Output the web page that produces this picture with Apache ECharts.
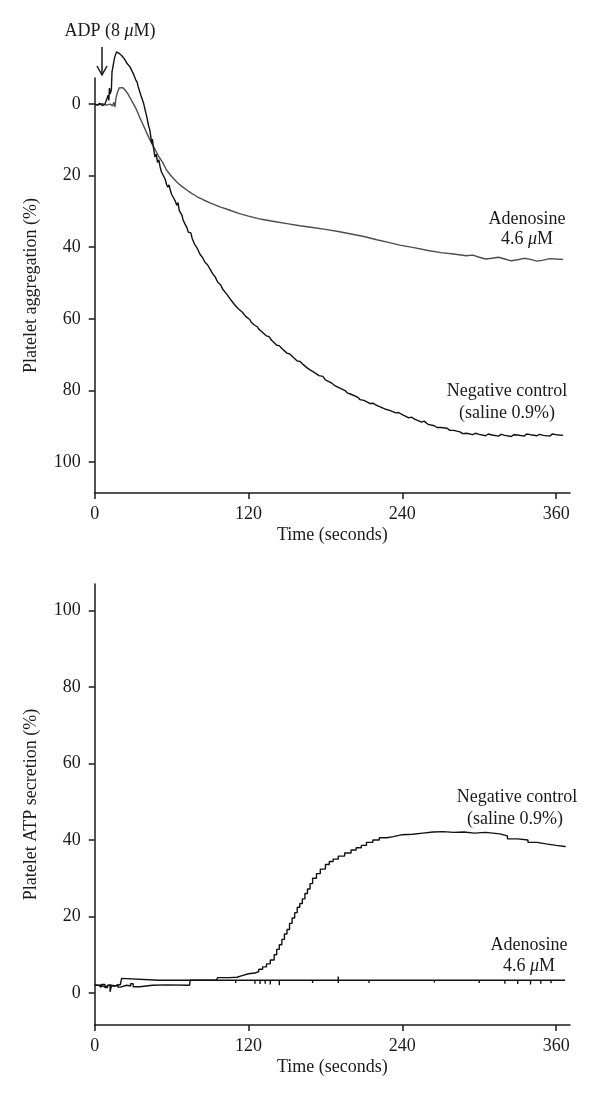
<!DOCTYPE html>
<html>
<head>
<meta charset="utf-8">
<script src="https://cdn.jsdelivr.net/npm/echarts@6/dist/echarts.min.js"></script>
<style>
  html, body { margin: 0; padding: 0; background: #fff; }
  #chart { width: 600px; height: 1106px; }
</style>
</head>
<body>
<div id="chart"></div>
<script>
// time ticks shared by both panels (seconds)
const timeTicks = [0, 120, 240, 360]
const pctTicks = [0, 20, 40, 60, 80, 100]

// top panel: platelet aggregation (%), [time, value]
const aggControl = [
  [0, 0], [2, 0.3], [4, -0.2], [6, 0.4], [8, 0], [9.5, 0.2], [10.5, -2.5], [11, -1], [11.5, -4.5], [12, -2.8],
  [13, -4], [13.5, -9], [14.5, -11], [15.5, -13], [17, -14.6], [19, -14.2], [21, -13.6], [23, -12.7], [25, -11.5],
  [27.5, -10.4], [30, -8.6], [32, -6.8], [33, -6.2], [34, -4.8], [36, -2.5], [38, -0.4], [40.6, 3.5], [42, 6],
  [43, 7.2], [44.5, 11], [45, 9.8], [46, 12.5], [47, 14.8], [48, 14], [49, 16.3], [50, 15.6], [51, 17.5], [52, 18.9],
  [53, 19.6], [54, 19.1], [55, 21], [56, 22.4], [57, 23.2], [58, 22.6], [59, 24.1], [60, 25.2], [61, 25.9], [62, 25.4],
  [63, 27.2], [64, 28.3], [65, 27.5], [66, 29.8], [67, 30.1], [68, 31], [69, 32.4], [70, 33.2], [71, 33], [72, 34.6],
  [73, 35.8], [74, 36.3], [75, 36], [76, 37.5], [77, 38.4], [78, 39.2], [79, 39], [80, 40.3], [82, 41.9], [83, 41.6],
  [84, 42.8], [86, 44.2], [87, 44], [88, 44.9], [90, 46.1], [91, 46], [92, 47.4], [94, 48.3], [95, 48.1], [96, 49.8],
  [98, 50.4], [99, 50.2], [100, 51.8], [103, 53.1], [104, 52.8], [106, 54.6], [109, 56], [110, 55.7], [112, 57.2],
  [115, 58.1], [116, 58.6], [118, 59.4], [121, 60.2], [122, 60.9], [124, 61.6], [127, 62.3], [128, 62.9], [130, 63.5],
  [134, 64.8], [136, 65], [138, 66], [142, 67.4], [144, 67.5], [146, 68.3], [150, 69.6], [152, 69.8], [154, 70.5],
  [158, 71.8], [160, 71.9], [162, 72.6], [166, 73.8], [168, 74.3], [170, 74.7], [175, 75.9], [178, 76.1], [180, 77.1],
  [185, 78], [187, 78.6], [190, 79.2], [195, 80], [197, 80.7], [200, 81.1], [205, 81.9], [207, 82.6], [210, 82.8],
  [215, 83.7], [217, 83.6], [220, 84.2], [225, 85], [227, 85.3], [230, 85.6], [235, 86.3], [237, 86.2], [240, 86.8],
  [245, 87.7], [247, 87.5], [250, 88.1], [255, 88.9], [257, 88.6], [260, 89.5], [265, 89.9], [267, 90.4], [270, 90.4],
  [275, 90.6], [277, 91.2], [280, 91.2], [285, 91.6], [287, 92.1], [290, 92], [295, 92.4], [297, 92], [300, 92.3],
  [305, 92.7], [307, 92.2], [310, 92.5], [315, 92.8], [317, 92.3], [320, 92.6], [325, 92.9], [327, 92.4], [330, 92.5],
  [335, 92.8], [337, 92.2], [340, 92.4], [345, 92.7], [347, 92.3], [350, 92.6], [355, 92.8], [357, 92.2], [360, 92.4],
  [365.5, 92.6]
]
const aggAdenosine = [
  [0, 0], [3, 0.2], [6, -0.1], [9, 0.3], [12, 0], [14, 0.5], [15, -0.5], [15.8, 0.8], [16.5, -1.5], [17.5, -3],
  [19, -4.5], [20.3, -5], [22, -4.6], [24, -3.8], [26, -2.8], [28, -1.5], [30, -0.2], [32.8, 1.7], [35, 3.6], [38, 6],
  [41, 8.4], [44.5, 11], [47, 12.6], [50, 14.7], [53, 16.3], [56, 18.4], [59, 19.8], [62, 21], [65, 22.1], [68, 23],
  [71.8, 24], [75, 24.8], [80, 25.9], [85, 26.8], [90, 27.6], [97.7, 28.7], [105, 29.6], [113, 30.6], [120, 31.3],
  [130, 32.2], [140, 32.8], [150, 33.4], [160, 34], [170, 34.5], [180, 35], [190, 35.6], [200, 36.3], [210, 37],
  [220, 37.9], [230, 38.7], [238, 39.4], [250, 40.2], [260, 40.9], [270, 41.5], [280, 41.9], [290, 42.4], [295, 42.2],
  [300, 42.8], [305, 43.3], [310, 43.1], [315, 42.8], [320, 43.3], [325, 43.8], [330, 43.5], [335, 43.1],
  [340, 43.4], [345, 43.9], [350, 43.6], [355, 43.2], [360, 43.3], [365.5, 43.4]
]

// bottom panel: platelet ATP secretion (%), [time, value]
const atpControl = [
  [0, 2], [3, 1.5], [5, 2.2], [8, 1.4], [10, 2], [12, 0.3], [13, 1.8], [16, 2.2], [18, 1.5], [20, 2], [25, 1.8],
  [28, 2.4], [30, 1.6], [35, 2], [45, 2.1], [55, 2], [74, 2.1], [74.5, 3.3], [85, 3.4], [95, 3.4], [96, 4],
  [105, 4.1], [111, 4.5], [115, 5], [120, 5.2], [125, 5.6], [128, 6.2], [131, 6.8], [134, 7.6], [137, 8.6], [140, 10],
  [142, 11.4], [144, 12.6], [146, 14], [148, 15.4], [150, 16.6], [152, 18.2], [154, 19.6], [156, 21], [158, 22.4],
  [160, 23.4], [162, 24.6], [164, 26], [166, 27.2], [168, 28.6], [170, 30], [173, 31.2], [176, 32.4], [180, 33.6],
  [183, 34.4], [186, 35], [190, 35.8], [195, 36.6], [200, 37.4], [204, 38], [208, 38.6], [212, 39.4], [217, 40],
  [222, 40.6], [228, 40.9], [233, 41.4], [240, 41.5], [248, 41.8], [256, 42.1], [264, 42.2], [272, 42], [280, 42.1],
  [288, 41.8], [296, 42], [305, 41.6], [316, 41.1], [322, 40.3], [330, 40], [338, 39.4], [345, 39], [352, 38.6],
  [360, 38.3], [367, 38.1]
]
const atpAdenosine = [
  [0, 2], [4, 1.6], [8, 2.1], [12, 1.8], [16, 2.2], [20, 1.8], [21, 3.8], [22, 3.3], [50, 3.3], [75, 3.3],
  [110, 3.3], [110, 2.6], [110, 3.3], [125, 3.3], [125, 2.4], [125, 3.3], [129, 3.3], [129, 2.3], [129, 3.3],
  [133, 3.3], [133, 2.4], [133, 3.3], [137, 3.3], [137, 2.2], [137, 3.3], [144, 3.3], [144, 2], [144, 3.3],
  [170, 3.3], [170, 2.6], [170, 3.3], [190, 3.3], [190, 4.3], [190, 2.6], [190, 3.3], [214, 3.3], [214, 2.6],
  [214, 3.3], [265, 3.3], [265, 2.7], [265, 3.3], [300, 3.3], [300, 2.6], [300, 3.3], [320, 3.3], [320, 2.4],
  [320, 3.3], [330, 3.3], [330, 2.3], [330, 3.3], [340, 3.3], [340, 2.2], [340, 3.3], [348, 3.3], [348, 2.4],
  [348, 3.3], [356, 3.3], [356, 2.5], [356, 3.3], [367, 3.3]
]

const serif = '"Liberation Serif", "DejaVu Serif", serif'
const ink = '#1a1a1a'
const fontPx = 18

const axisBase = {
  axisLine: { show: true, onZero: false, lineStyle: { color: ink, width: 1.5 } },
  axisTick: { show: true, inside: false, length: 6, lineStyle: { color: ink, width: 1.5 } },
  splitLine: { show: false },
  nameTextStyle: { fontFamily: serif, fontSize: fontPx, color: ink }
}

const xAxisFor = gridIndex => ({
  ...axisBase,
  type: 'value',
  gridIndex,
  min: 0,
  max: 370.8,
  name: 'Time (seconds)',
  nameLocation: 'middle',
  nameGap: 33,
  axisTick: { ...axisBase.axisTick, customValues: timeTicks },
  axisLabel: { customValues: timeTicks, fontFamily: serif, fontSize: fontPx, color: ink, margin: 12 }
})

const yAxisFor = (gridIndex, name, min, max, inverse) => ({
  ...axisBase,
  type: 'value',
  gridIndex,
  min,
  max,
  inverse,
  name,
  nameLocation: 'middle',
  nameGap: 54,
  axisTick: { ...axisBase.axisTick, customValues: pctTicks },
  axisLabel: { customValues: pctTicks, fontFamily: serif, fontSize: fontPx, color: ink, margin: 14 }
})

const lineSeries = (data, xi, color, step) => ({
  type: 'line',
  xAxisIndex: xi,
  yAxisIndex: xi,
  data,
  step: step || false,
  clip: false,
  showSymbol: false,
  animation: false,
  lineStyle: { color, width: 1.4 }
})

const txt = (text, x, y) => ({
  type: 'text',
  x,
  y,
  style: {
    text,
    x: 0,
    y: 0,
    align: 'center',
    verticalAlign: 'middle',
    font: fontPx + 'px ' + serif,
    fill: ink,
    rich: { i: { fontStyle: 'italic', fontFamily: serif, fontSize: fontPx, fill: ink } }
  }
})

const chart = echarts.init(document.getElementById('chart'))
chart.setOption({
  backgroundColor: '#fff',
  animation: false,
  grid: [
    { left: 94.7, top: 78, width: 475.3, height: 415, outerBoundsMode: 'none' },
    { left: 94.7, top: 584, width: 475.3, height: 441, outerBoundsMode: 'none' }
  ],
  xAxis: [xAxisFor(0), xAxisFor(1)],
  yAxis: [
    yAxisFor(0, 'Platelet aggregation (%)', -7.3, 108.7, true),
    yAxisFor(1, 'Platelet ATP secretion (%)', -8.4, 107, false)
  ],
  series: [
    lineSeries(aggAdenosine, 0, '#4d4d4d'),
    lineSeries(aggControl, 0, '#111'),
    lineSeries(atpAdenosine, 1, '#111', 'end'),
    lineSeries(atpControl, 1, '#111', 'end')
  ],
  graphic: [
    txt('ADP (8 {i|μ}M)', 110, 31),
    { type: 'line', shape: { x1: 102, y1: 47, x2: 102, y2: 75 }, style: { stroke: ink, lineWidth: 1.5 } },
    { type: 'polyline', shape: { points: [[97, 66], [102, 75], [107, 66]] }, style: { stroke: ink, lineWidth: 1.5, fill: null } },
    txt('Adenosine', 527, 219),
    txt('4.6 {i|μ}M', 527, 239),
    txt('Negative control', 507, 391),
    txt('(saline 0.9%)', 507, 413),
    txt('Negative control', 517, 797),
    txt('(saline 0.9%)', 515, 819),
    txt('Adenosine', 529, 945),
    txt('4.6 {i|μ}M', 529, 966)
  ]
})
</script>
</body>
</html>
